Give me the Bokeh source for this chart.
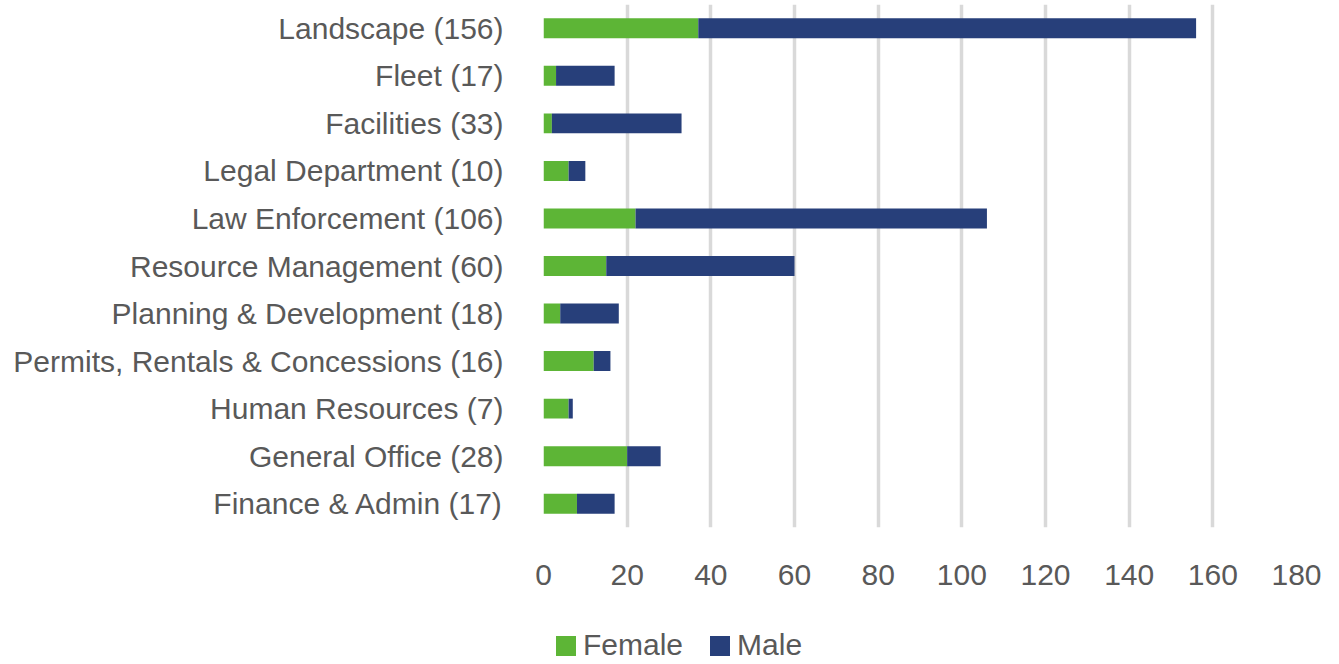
from bokeh.plotting import figure
from bokeh.layouts import column
from bokeh.models import ColumnDataSource, Range1d, FixedTicker, Legend, LegendItem
from bokeh.embed import file_html
from bokeh.resources import INLINE

# Data (top to bottom as in the chart)
categories = ["Landscape (156)", "Fleet (17)", "Facilities (33)", "Legal Department (10)",
              "Law Enforcement (106)", "Resource Management (60)", "Planning & Development (18)",
              "Permits, Rentals & Concessions (16)", "Human Resources (7)",
              "General Office (28)", "Finance & Admin (17)"]
female = [37, 3, 2, 6, 22, 15, 4, 12, 6, 20, 8]
male = [119, 14, 31, 4, 84, 45, 14, 4, 1, 8, 9]
x_ticks = [0, 20, 40, 60, 80, 100, 120, 140, 160, 180]
series = ["Female", "Male"]
colors = ["#5DB536", "#273F7A"]

FONT = "Liberation Sans"
TEXT = "#595959"

src = ColumnDataSource(dict(cat=categories, Female=female, Male=male))

p = figure(y_range=list(reversed(categories)), x_range=Range1d(0, 180),
           width=1339, height=626, output_backend="svg", toolbar_location=None,
           min_border_left=543, min_border_right=43, min_border_top=4, min_border_bottom=99)

rs = p.hbar_stack(series, y="cat", height=0.42, color=colors, source=src, line_width=0)

p.outline_line_color = None
p.ygrid.grid_line_color = None
p.xgrid.grid_line_color = "#D9D9D9"
p.xgrid.grid_line_width = 3.5

p.xaxis.ticker = FixedTicker(ticks=x_ticks)
for ax in (p.xaxis[0], p.yaxis[0]):
    ax.axis_line_color = None
    ax.major_tick_line_color = None
    ax.minor_tick_line_color = None
    ax.major_tick_out = 0
    ax.major_tick_in = 0
    ax.major_label_text_font = FONT
    ax.major_label_text_font_size = "30px"
    ax.major_label_text_color = TEXT
p.yaxis.major_label_standoff = 40
p.xaxis.major_label_standoff = 37

# Legend strip below the chart (its renderers are hidden; only the legend shows)
lg = figure(width=1339, height=38, output_backend="svg", toolbar_location=None,
            y_range=list(reversed(categories)), x_range=Range1d(0, 180),
            x_axis_location=None, y_axis_location=None,
            min_border_left=0, min_border_right=0, min_border_top=0, min_border_bottom=0)
lg.outline_line_color = None
lg.grid.grid_line_color = None
keys = lg.hbar_stack(series, y="cat", height=0.42, color=colors, source=src, line_width=0)
for k in keys:
    k.visible = False
legend = Legend(items=[LegendItem(label=s, renderers=[r]) for s, r in zip(series, keys)],
                orientation="horizontal", location="left",
                label_text_font=FONT, label_text_font_size="30px", label_text_color=TEXT,
                glyph_width=25, glyph_height=25, label_standoff=5, spacing=24,
                border_line_color=None, background_fill_alpha=0, padding=0, margin=10)
lg.add_layout(legend, "center")

open("out.html", "w").write(file_html(column(p, lg, spacing=0), INLINE))
